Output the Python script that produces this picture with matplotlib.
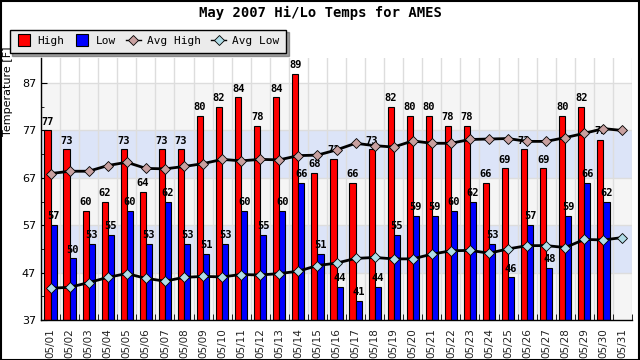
import numpy as np
import matplotlib
matplotlib.use("Agg")
import matplotlib.pyplot as plt
from matplotlib.lines import Line2D

days = ["05/%02d" % d for d in range(1, 32)]

high = [77, 73, 60, 62, 73, 64, 73, 73, 80, 82, 84, 78, 84, 89, 68, 71,
        66, 73, 82, 80, 80, 78, 78, 66, 69, 73, 69, 80, 82, 75, None]
low = [57, 50, 53, 55, 60, 53, 62, 53, 51, 53, 60, 55, 60, 66, 51, 44,
       41, 44, 55, 59, 59, 60, 62, 53, 46, 57, 48, 59, 66, 62, None]
avg_high = [67.9, 68.4, 68.4, 69.6, 70.3, 69.0, 68.9, 69.4, 70.0, 70.9, 70.6,
            70.9, 70.8, 71.7, 71.8, 72.9, 74.3, 73.8, 73.5, 74.8, 74.3, 74.3,
            75.1, 75.2, 75.3, 74.7, 74.7, 75.5, 76.4, 77.4, 77.0]
avg_low = [43.7, 43.9, 44.9, 46.0, 46.8, 45.8, 45.2, 46.0, 46.2, 46.1, 46.6,
           46.5, 46.8, 47.3, 48.5, 49.0, 50.0, 50.2, 49.9, 49.9, 50.9, 51.6,
           51.7, 51.1, 52.0, 52.7, 52.7, 52.3, 54.0, 53.9, 54.4]

y_ticks = [37, 47, 57, 67, 77, 87]
ymin, ymax = 37, 92.3

mono = "DejaVu Sans Mono"

fig = plt.figure(figsize=(6.4, 3.6), dpi=100)
fig.patch.set_facecolor("white")
ax = fig.add_axes([41 / 640, 40 / 360, 591 / 640, 262 / 360])
ax.set_facecolor("white")

# alternating horizontal bands
for i in range(len(y_ticks) - 1):
    col = "#f5f5f5" if i % 2 == 0 else "#dce4f8"
    ax.axhspan(y_ticks[i], y_ticks[i + 1], color=col, zorder=0, lw=0)
for t in y_ticks[1:]:
    ax.axhline(t, color="#dddddd", lw=1, zorder=0.5)

x = np.arange(len(days))
for b in np.arange(-0.5, len(days), 1.0):
    ax.axvline(b, color="#dddddd", lw=1, zorder=0.5)

w = 0.32
hx = [i for i, v in enumerate(high) if v is not None]
hv = [high[i] for i in hx]
lx = [i for i, v in enumerate(low) if v is not None]
lv = [low[i] for i in lx]

ax.bar(np.array(hx) - w / 2, np.array(hv) - ymin, w, bottom=ymin,
       color="#ff0000", edgecolor="black", lw=0.8, zorder=2)
ax.bar(np.array(lx) + w / 2, np.array(lv) - ymin, w, bottom=ymin,
       color="#0000ff", edgecolor="black", lw=0.8, zorder=2)

for xi, v in zip(hx, hv):
    ax.text(xi - w / 2, v + 0.8, str(v), ha="center", va="bottom",
            fontsize=7.5, fontweight="bold", family=mono, zorder=3)
for xi, v in zip(lx, lv):
    ax.text(xi + w / 2, v + 0.8, str(v), ha="center", va="bottom",
            fontsize=7.5, fontweight="bold", family=mono, zorder=3)

ax.plot(x, avg_high, color="black", lw=2, zorder=4, marker="D", ms=5,
        mfc="#c8a0a0", mec="black", mew=0.6)
ax.plot(x, avg_low, color="black", lw=2, zorder=4, marker="D", ms=5,
        mfc="#b0dce6", mec="black", mew=0.6)

ax.set_xlim(-0.5, len(days) - 0.5)
ax.set_ylim(ymin, ymax)
ax.set_yticks(y_ticks)
ax.set_yticks(np.arange(42, 92, 10), minor=True)
ax.set_yticklabels([str(t) for t in y_ticks], fontsize=8)
ax.set_xticks(x)
ax.set_xticklabels(days, rotation=90, fontsize=7.5, color="#222222")
ax.set_xticks(np.arange(-0.5, len(days), 1.0), minor=True)
ax.tick_params(axis="x", which="major", length=0, pad=6)
ax.tick_params(axis="x", which="minor", length=4, direction="in")
ax.tick_params(axis="y", which="both", direction="in", length=4)
ax.tick_params(axis="y", which="minor", length=2)
for s in ["top", "right"]:
    ax.spines[s].set_visible(False)
ax.spines["left"].set_linewidth(1)
ax.spines["bottom"].set_linewidth(1)

fig.text(0.5, 1 - 13 / 360, "May 2007 Hi/Lo Temps for AMES", ha="center",
         va="center", fontsize=10, fontweight="bold", family=mono)
fig.text(8 / 640, 1 - 47 / 360, "Temperature [F]", rotation=90, ha="center",
         va="top", fontsize=8)

handles = [
    Line2D([], [], ls="none", marker="s", ms=8, mfc="#ff0000",
           mec="black", mew=0.8, label="High"),
    Line2D([], [], ls="none", marker="s", ms=8, mfc="#0000ff",
           mec="black", mew=0.8, label="Low"),
    Line2D([], [], color="black", marker="D", ms=5, mfc="#c8a0a0",
           mec="black", mew=0.6, lw=1, label="Avg High"),
    Line2D([], [], color="black", marker="D", ms=5, mfc="#b0dce6",
           mec="black", mew=0.6, lw=1, label="Avg Low"),
]
leg = fig.legend(handles=handles, loc="upper left", ncol=4,
                 bbox_to_anchor=(4 / 640, 1 - 24 / 360), frameon=True,
                 fancybox=False, shadow=True, edgecolor="black",
                 facecolor="#ebebeb", prop={"family": mono, "size": 8},
                 handlelength=1.4, handletextpad=0.5, columnspacing=0.9,
                 borderpad=0.6, framealpha=1)
leg.get_frame().set_linewidth(1)

# outer frame
fig.add_artist(plt.Rectangle((0.001, 0.001), 0.997, 0.996, fill=False,
                             edgecolor="black", lw=1.5,
                             transform=fig.transFigure))

fig.savefig("out.png", dpi=100)
